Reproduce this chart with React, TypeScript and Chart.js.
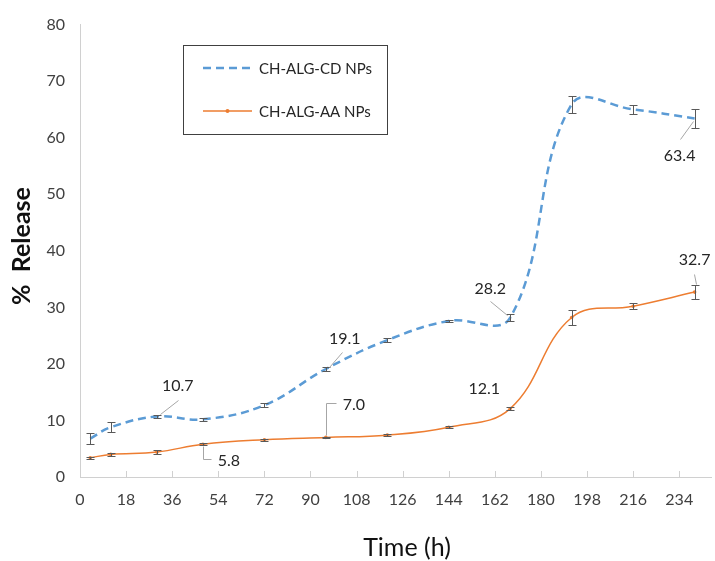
import React, { useEffect, useRef } from 'react';
import { Chart, registerables } from 'chart.js';

Chart.register(...registerables);

const FONT = 'Lato, "Open Sans", sans-serif';

// ---- data ----
const hours = [4, 12, 30, 48, 72, 96, 120, 144, 168, 192, 216, 240];
const cdRelease = [6.8, 8.8, 10.7, 10.2, 12.7, 19.1, 24.2, 27.6, 28.2, 65.9, 65.0, 63.4];
const cdError = [0.9, 0.9, 0.3, 0.3, 0.3, 0.3, 0.3, 0.2, 0.6, 1.5, 0.8, 1.6];
const aaRelease = [3.4, 4.0, 4.4, 5.8, 6.6, 7.0, 7.4, 8.8, 12.1, 28.2, 30.2, 32.7];
const aaError = [0.2, 0.2, 0.3, 0.2, 0.2, 0.1, 0.2, 0.2, 0.3, 1.3, 0.5, 1.2];
const seriesNames = ['CH-ALG-CD NPs', 'CH-ALG-AA NPs'];
const xTickValues = [0, 18, 36, 54, 72, 90, 108, 126, 144, 162, 180, 198, 216, 234];
const yTickValues = [0, 10, 20, 30, 40, 50, 60, 70, 80];
const xTitle = 'Time (h)';
const yTitle = '%  Release';

// ---- styles ----
const BLUE = '#5B9BD5';
const ORANGE = '#ED7D31';
const BLUE_DASH = [8, 5];

// callouts: series index, point index, text offset from point, leader polyline (offsets from point)
const callouts = [
  { s: 0, i: 2, dx: 21, dy: -31, leader: [[3, -2], [21, -16]] },
  { s: 0, i: 5, dx: 19, dy: -30, leader: [[3, -2], [16, -17]] },
  { s: 0, i: 8, dx: -20, dy: -29, leader: [[-3, -3], [-20, -17]] },
  { s: 0, i: 11, dx: -15, dy: 37, leader: [[-2, 3], [-15, 21]] },
  { s: 1, i: 3, dx: 26, dy: 17, leader: [[0, 2], [0, 15], [8, 15]] },
  { s: 1, i: 5, dx: 28, dy: -33, leader: [[0, -2], [0, -34], [10, -34]] },
  { s: 1, i: 8, dx: -26, dy: -20, leader: [] },
  { s: 1, i: 11, dx: 0, dy: -32, leader: [[1, -8], [-1, -18]] },
];

export default function App() {
  const ref = useRef<HTMLCanvasElement>(null);

  useEffect(() => {
    const canvas = ref.current!;
    const values = [cdRelease, aaRelease];
    const errors = [cdError, aaError];

    const errorBars = {
      id: 'errorBars',
      afterDatasetsDraw(chart: any) {
        const { ctx, scales } = chart;
        const x = scales.x, y = scales.y;
        ctx.save();
        ctx.strokeStyle = '#595959';
        ctx.lineWidth = 1;
        values.forEach((vals, s) => {
          vals.forEach((v, i) => {
            const px = Math.round(x.getPixelForValue(hours[i])) + 0.5;
            const top = Math.round(y.getPixelForValue(v + errors[s][i])) + 0.5;
            const bot = Math.round(y.getPixelForValue(v - errors[s][i])) + 0.5;
            ctx.beginPath();
            ctx.moveTo(px, top); ctx.lineTo(px, bot);
            ctx.moveTo(px - 4, top); ctx.lineTo(px + 4, top);
            ctx.moveTo(px - 4, bot); ctx.lineTo(px + 4, bot);
            ctx.stroke();
          });
        });
        ctx.restore();
      },
    };

    const decorations = {
      id: 'decorations',
      beforeDatasetsDraw(chart: any) {
        const { ctx, scales, chartArea } = chart;
        const x = scales.x;
        ctx.save();
        ctx.strokeStyle = '#d0d0d0';
        ctx.lineWidth = 1;
        xTickValues.forEach((v) => {
          const px = Math.round(x.getPixelForValue(v)) + 0.5;
          ctx.beginPath();
          ctx.moveTo(px, chartArea.bottom);
          ctx.lineTo(px, chartArea.bottom - 6);
          ctx.stroke();
        });
        ctx.restore();
      },
      afterDraw(chart: any) {
        const { ctx, scales } = chart;
        const x = scales.x, y = scales.y;
        ctx.save();
        // callouts
        ctx.font = `16px ${FONT}`;
        ctx.fillStyle = '#262626';
        ctx.textAlign = 'center';
        ctx.textBaseline = 'middle';
        callouts.forEach((c) => {
          const v = values[c.s][c.i];
          const px = x.getPixelForValue(hours[c.i]);
          const py = y.getPixelForValue(v);
          if (c.leader.length) {
            ctx.strokeStyle = '#a6a6a6';
            ctx.lineWidth = 1;
            ctx.beginPath();
            c.leader.forEach(([lx, ly], k) => {
              const qx = Math.round(px + lx) + 0.5;
              const qy = Math.round(py + ly) + 0.5;
              if (k === 0) ctx.moveTo(qx, qy); else ctx.lineTo(qx, qy);
            });
            ctx.stroke();
          }
          ctx.fillText(v.toFixed(1), px + c.dx, py + c.dy);
        });

        // legend
        ctx.strokeStyle = '#404040';
        ctx.lineWidth = 1;
        ctx.strokeRect(183.5, 45.5, 204, 89);
        ctx.font = `15px ${FONT}`;
        ctx.textAlign = 'left';
        ctx.fillStyle = '#262626';
        ctx.beginPath();
        ctx.strokeStyle = BLUE;
        ctx.lineWidth = 2.5;
        ctx.setLineDash(BLUE_DASH);
        ctx.moveTo(203, 68);
        ctx.lineTo(251, 68);
        ctx.stroke();
        ctx.setLineDash([]);
        ctx.fillText(seriesNames[0], 259, 69);
        ctx.beginPath();
        ctx.strokeStyle = ORANGE;
        ctx.lineWidth = 1.5;
        ctx.moveTo(203, 111);
        ctx.lineTo(252, 111);
        ctx.stroke();
        ctx.beginPath();
        ctx.fillStyle = ORANGE;
        ctx.arc(227.5, 111, 2, 0, Math.PI * 2);
        ctx.fill();
        ctx.fillStyle = '#262626';
        ctx.fillText(seriesNames[1], 259, 112);

        // axis titles
        ctx.fillStyle = '#111';
        ctx.textAlign = 'center';
        ctx.font = `25px ${FONT}`;
        ctx.fillText(xTitle, 407, 548);
        ctx.translate(22, 246);
        ctx.rotate(-Math.PI / 2);
        ctx.font = `bold 25px ${FONT}`;
        ctx.fillText(yTitle, 0, 0);
        ctx.restore();
      },
    };

    const chart = new Chart(canvas, {
      type: 'line',
      data: {
        datasets: [
          {
            label: seriesNames[0],
            data: hours.map((h, i) => ({ x: h, y: cdRelease[i] })),
            borderColor: BLUE,
            backgroundColor: BLUE,
            borderWidth: 2.5,
            borderDash: BLUE_DASH,
            tension: 0.4,
            pointRadius: 0,
            fill: false,
          },
          {
            label: seriesNames[1],
            data: hours.map((h, i) => ({ x: h, y: aaRelease[i] })),
            borderColor: ORANGE,
            backgroundColor: ORANGE,
            borderWidth: 1.5,
            tension: 0.4,
            pointRadius: 1.8,
            pointBorderWidth: 0,
            fill: false,
          },
        ],
      },
      options: {
        animation: false,
        responsive: false,
        devicePixelRatio: 1,
        layout: { padding: { top: 22, right: 0, left: 0, bottom: 0 } },
        plugins: { legend: { display: false }, tooltip: { enabled: false } },
        scales: {
          x: {
            type: 'linear',
            min: 0,
            max: 246.4,
            afterBuildTicks: (scale: any) => {
              scale.ticks = xTickValues.map((v) => ({ value: v }));
            },
            afterFit: (scale: any) => {
              scale.height = 84;
            },
            grid: { display: false, drawTicks: false },
            border: { display: true, color: '#d0d0d0', width: 1 },
            ticks: {
              padding: 13,
              color: '#404040',
              font: { family: FONT, size: 16 },
              maxRotation: 0,
              autoSkip: false,
            },
          },
          y: {
            type: 'linear',
            min: 0,
            max: 80,
            afterBuildTicks: (scale: any) => {
              scale.ticks = yTickValues.map((v) => ({ value: v }));
            },
            afterFit: (scale: any) => {
              scale.width = 80;
            },
            grid: { display: false, drawTicks: false },
            border: { display: true, color: '#d0d0d0', width: 1 },
            ticks: {
              padding: 15,
              color: '#404040',
              font: { family: FONT, size: 16 },
            },
          },
        },
      },
      plugins: [decorations, errorBars],
    } as any);

    return () => chart.destroy();
  }, []);

  return (
    <div style={{ position: 'absolute', left: 0, top: 0, width: 715, height: 561, background: '#fff' }}>
      <canvas ref={ref} width={715} height={561} style={{ display: 'block' }} />
    </div>
  );
}
